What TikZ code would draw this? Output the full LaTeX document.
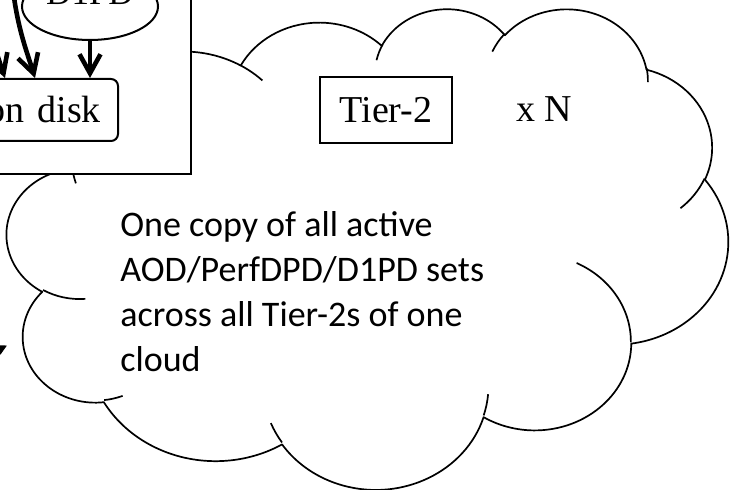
\documentclass[tikz,border=0pt]{standalone}
\usepackage{fontspec}
\setmainfont{Liberation Serif}
\newfontfamily\calibrifont{Carlito}
\usetikzlibrary{arrows.meta,shapes.geometric,calc}

\begin{document}
\begin{tikzpicture}[x=0.5pt,y=-0.5pt,
  font=\fontsize{19pt}{23pt}\selectfont,
  % visual angle -> parametric angle on an ellipse with radii (w,h)
  declare function={pang(\va,\rw,\rh)=atan2(sin(\va)/\rh,cos(\va)/\rw);},
  % elliptic arc given by radii, start angle and sweep (visual angles)
  carc/.style n args={4}{x radius=#1, y radius=#2,
    start angle={pang(#3,#1,#2)},
    delta angle={Mod(pang(#3+#4,#1,#2)-pang(#3,#1,#2),360)}},
  cloudline/.style={line width=0.85pt, black, line join=round},
  frame/.style={draw, line width=1pt, fill=white, inner sep=0pt},
  diskbox/.style={draw, line width=1pt, rounded corners=3.5pt, fill=white},
  bigarrow/.style={line width=2.3pt, -{Straight Barb[length=9.5pt,width=10.5pt]}},
  smallarrow/.style={line width=1pt, -{Triangle[length=5pt,width=5pt]}},
  note/.style={font=\calibrifont\fontsize{18pt}{22.5pt}\selectfont, align=left, inner sep=0pt}]

\useasboundingbox (0,0) rectangle (730,490);
\clip (0,0) rectangle (730,490);

% ---- the cloud (outline arcs, then the short inner tails) ----
\begin{scope}[shift={(7,7.7)}, x=1pt, y=1pt, xscale=8.345, yscale=-5.5615]
  \draw[cloudline, fill=white] (3.9,14.37)
    arc[carc={6.753}{9.19}{-190.4875}{123.7805}]
    arc[carc={5.333}{7.267}{-144.1024}{89.9452}]
    arc[carc={4.365}{5.945}{-145.8079}{99.7230}]
    arc[carc={4.857}{6.595}{-130.9861}{117.2417}]
    arc[carc={5.333}{7.273}{-78.7089}{109.0269}]
    arc[carc={6.775}{9.22}{-46.2673}{130.2690}]
    arc[carc={5.785}{7.867}{0.625}{114.0333}]
    arc[carc={6.752}{9.215}{22.4516}{115.1726}]
    arc[carc={7.72}{10.543}{66.2426}{75.7110}]
    arc[carc={4.36}{5.918}{-274.9421}{146.7356}]
    arc[carc={4.345}{5.945}{-246.8285}{152.5189}]
    -- cycle;
  \draw[cloudline]
    (4.693,26.177) arc[carc={4.345}{5.945}{86.742}{26.4295}]
    (6.928,34.899) arc[carc={4.36}{5.918}{73.6105}{11.4475}]
    (16.478,39.09) arc[carc={6.752}{9.215}{137.6242}{14.0811}]
    (28.827,34.751) arc[carc={6.752}{9.215}{6.4533}{15.9984}]
    (34.129,22.954) arc[carc={5.785}{7.867}{-70.2924}{70.9174}]
    (41.798,15.354) arc[carc={5.333}{7.273}{30.318}{27.7515}]
    (38.324,5.426) arc[carc={4.857}{6.595}{-13.7443}{14.8589}]
    (29.078,3.952) arc[carc={4.857}{6.595}{-149.1815}{18.1954}]
    (22.141,4.72) arc[carc={4.365}{5.945}{-163.4943}{17.6864}]
    (14.0,5.192) arc[carc={6.753}{9.19}{-66.707}{12.3194}]
    (4.127,15.789) arc[carc={6.753}{9.19}{157.6544}{11.8582}];
\end{scope}

% ---- Tier-1 panel, partly outside the page ----
\node[frame, anchor=south east, minimum width=150pt, minimum height=120pt] (tierone) at (192,175) {};

\node[diskbox, anchor=north east, text width=122pt, align=right,
      minimum height=31pt, inner xsep=8.5pt, inner ysep=0pt] (disk) at (119,78) {on disk};

\node[draw, ellipse, line width=1pt, fill=white, minimum width=68pt, minimum height=33.5pt,
      inner sep=0pt, text height=10pt, text depth=11.5pt,
      font=\fontsize{17.5pt}{21pt}\selectfont] (d1pd) at (90,6.5) {D1PD};

\coordinate (srcA) at (-22,-2);
\coordinate (tipA) at (5,0);
\coordinate (srcB) at (13,-10);
\coordinate (tipB) at (35,0);

\draw[bigarrow] (srcA) -- (tipA |- disk.north);
\draw[bigarrow] (srcB) .. controls (18,30) and (27,52) .. (tipB |- disk.north);
\draw[bigarrow] (d1pd.south) -- (d1pd.south |- disk.north);

% ---- Tier-2 cloud contents ----
\node[draw, line width=1pt, minimum width=66pt, minimum height=33pt, inner sep=0pt] (tier) at (386,110) {Tier-2};
\node[anchor=base west, inner sep=0pt] (mult) at (516,122) {x N};

% the base anchor of this block sits on its last line
\node[note, anchor=base west] (text) at (120,372)
  {One copy of all active\\AOD/PerfDPD/D1PD sets\\across all Tier-2s of one\\cloud};

% incoming arrow at the left edge
\coordinate (feed) at (-30,364);
\coordinate (feedtip) at (7,345.5);
\draw[smallarrow] (feed) -- (feedtip);
\end{tikzpicture}
\end{document}
